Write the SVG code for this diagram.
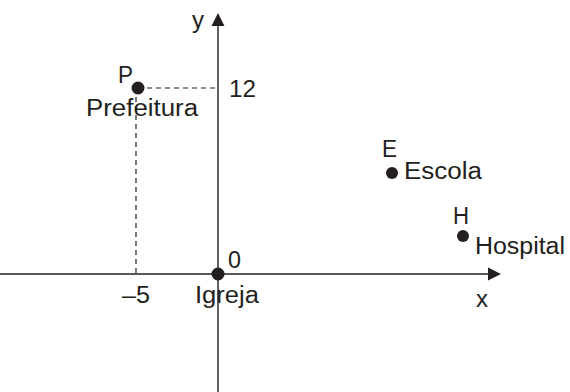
<svg xmlns="http://www.w3.org/2000/svg" width="570" height="392" viewBox="0 0 570 392">
<style>
text{font-family:"Liberation Sans",Arial,sans-serif;font-size:23px;fill:#231f20}
.ax{stroke:#231f20;stroke-width:1.4;fill:none}
.dash{stroke:#231f20;stroke-width:1.2;stroke-dasharray:5 4;fill:none}
.dot{fill:#231f20}
</style>
<rect width="570" height="392" fill="#fff"/>
<g id="connectors">
<line class="ax" x1="0" y1="274" x2="490" y2="274"/>
<polygon class="dot" points="501,274 488,267.5 488,280.5"/>
<line class="ax" x1="218" y1="392" x2="218" y2="24"/>
<polygon class="dot" points="218,13 211.5,26 224.5,26"/>
<line class="dash" x1="138" y1="88" x2="218" y2="88"/>
<line class="dash" x1="136" y1="88" x2="136" y2="274"/>
</g>
<g id="axis-labels">
<text x="192" y="28" textLength="12" lengthAdjust="spacingAndGlyphs">y</text>
<text x="476" y="307" textLength="12" lengthAdjust="spacingAndGlyphs">x</text>
<text x="229" y="97" textLength="27" lengthAdjust="spacingAndGlyphs">12</text>
<text x="228" y="268" textLength="13" lengthAdjust="spacingAndGlyphs">0</text>
<text x="122" y="303" textLength="28" lengthAdjust="spacingAndGlyphs">–5</text>
</g>
<g id="P">
<circle class="dot" cx="138" cy="88" r="6.5"/>
<text x="118" y="83" textLength="15" lengthAdjust="spacingAndGlyphs">P</text>
<text x="86" y="116" textLength="112" lengthAdjust="spacingAndGlyphs">Prefeitura</text>
</g>
<g id="Igreja">
<circle class="dot" cx="218" cy="274" r="6.5"/>
<text x="195" y="303" textLength="64" lengthAdjust="spacingAndGlyphs">Igreja</text>
</g>
<g id="E">
<circle class="dot" cx="392" cy="173" r="6"/>
<text x="382" y="157" textLength="15" lengthAdjust="spacingAndGlyphs">E</text>
<text x="404" y="179" textLength="78" lengthAdjust="spacingAndGlyphs">Escola</text>
</g>
<g id="H">
<circle class="dot" cx="463" cy="236" r="6"/>
<text x="453" y="224" textLength="16" lengthAdjust="spacingAndGlyphs">H</text>
<text x="475" y="254" textLength="90" lengthAdjust="spacingAndGlyphs">Hospital</text>
</g>
</svg>
